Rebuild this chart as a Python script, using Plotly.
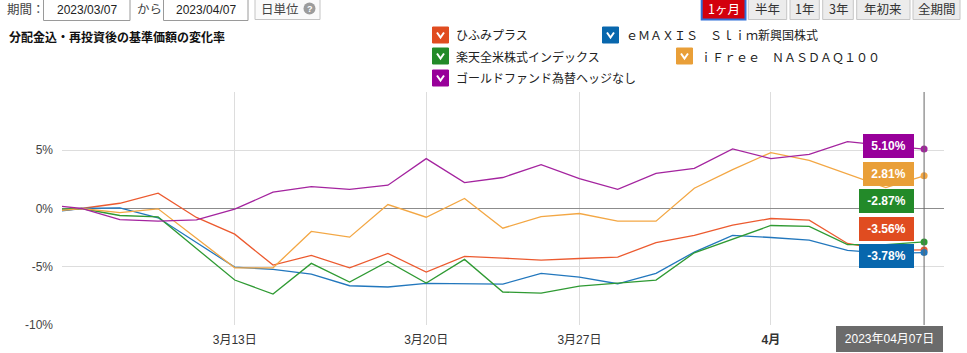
import plotly.graph_objects as go

# ---------------- data ----------------
dates = ["2023-03-06", "2023-03-07", "2023-03-08", "2023-03-09", "2023-03-10",
         "2023-03-13", "2023-03-14", "2023-03-15", "2023-03-16", "2023-03-17",
         "2023-03-20", "2023-03-22", "2023-03-23", "2023-03-24", "2023-03-27",
         "2023-03-28", "2023-03-29", "2023-03-30", "2023-03-31", "2023-04-03",
         "2023-04-04", "2023-04-05", "2023-04-06", "2023-04-07"]

series_names = ["ひふみプラス", "ｅＭＡＸＩＳ　Ｓｌｉｍ新興国株式", "楽天全米株式インデックス",
                "ｉＦｒｅｅ　ＮＡＳＤＡＱ１００", "ゴールドファンド為替ヘッジなし"]

hifumi = [-0.30, 0.00, 0.45, 1.31, -0.77, -2.20, -4.86, -4.03, -5.09, -3.86,
          -5.46, -4.11, -4.26, -4.43, -4.29, -4.17, -2.92, -2.31, -1.43, -0.86,
          -1.00, -3.00, -3.60, -3.56]
emaxis = [-0.40, 0.00, 0.05, -0.80, -2.92, -5.03, -5.23, -5.63, -6.63, -6.74,
          -6.43, -6.49, -6.49, -5.57, -5.89, -6.46, -5.57, -3.74, -2.31, -2.49,
          -2.72, -3.60, -3.85, -3.78]
rakuten = [-0.10, 0.00, -0.60, -0.72, -3.43, -6.14, -7.34, -4.71, -6.31, -4.54,
           -6.40, -4.37, -7.17, -7.26, -6.66, -6.43, -6.14, -3.80, -2.60, -1.46,
           -1.54, -3.10, -3.10, -2.87]
ifree = [-0.30, 0.00, -0.35, -0.03, -2.55, -5.09, -5.09, -1.97, -2.46, 0.34,
         -0.75, 0.86, -1.69, -0.69, -0.43, -1.09, -1.09, 1.74, 3.34, 4.80,
         4.14, 3.00, 1.80, 2.81]
gold = [0.35, 0.00, -0.95, -1.09, -0.97, -0.06, 1.40, 1.88, 1.65, 2.00,
        4.28, 2.23, 2.66, 3.77, 2.57, 1.65, 3.02, 3.45, 5.11, 4.28,
        4.65, 5.74, 5.40, 5.10]

series_values = [hifumi, emaxis, rakuten, ifree, gold]
line_colors = ["#ec5a2f", "#2277bd", "#2f9a33", "#f3a744", "#a4249f"]
label_colors = ["#e04c20", "#0867ad", "#238a29", "#e99f38", "#98009a"]

tick_dates = ["2023-03-13", "2023-03-20", "2023-03-27", "2023-04-03"]
tick_labels = ["3月13日", "3月20日", "3月27日", "<b>4月</b>"]
y_ticks = [-10, -5, 0, 5, 10]
y_tick_labels = ["-10%", "-5%", "0%", "5%", ""]

period_from = "2023/03/07"
period_to = "2023/04/07"
cursor_label = "2023年04月07日"
title_text = "分配金込・再投資後の基準価額の変化率"
range_buttons = ["1ヶ月", "半年", "1年", "3年", "年初来", "全期間"]

# ---------------- layout geometry ----------------
W_FIG, H_FIG = 967, 353
L, R, T, B = 62, 944, 92, 325
PW, PH = R - L, B - T
Y_MIN, Y_MAX = -10, 10

FONT = "Liberation Sans, Arial, Noto Sans CJK JP, sans-serif"
JFONT = "Noto Sans CJK JP, Liberation Sans, sans-serif"


def px(x):
    return (x - L) / PW


def py(y):
    return (B - y) / PH


def ypix(v):
    return T + (Y_MAX - v) / (Y_MAX - Y_MIN) * PH


x_idx = list(range(len(dates)))
last = x_idx[-1]

fig = go.Figure()
for name, vals, col in zip(series_names, series_values, line_colors):
    fig.add_trace(go.Scatter(x=x_idx, y=vals, mode="lines", name=name,
                             line=dict(color=col, width=1.3), showlegend=False,
                             hoverinfo="skip"))
for vals, col in zip(series_values, line_colors):
    fig.add_trace(go.Scatter(x=[last], y=[vals[-1]], mode="markers",
                             marker=dict(color=col, size=7), showlegend=False,
                             hoverinfo="skip"))

shapes = []
annotations = []

# cursor line at last date
shapes.append(dict(type="line", xref="x", yref="paper", x0=last, x1=last, y0=0, y1=1,
                   line=dict(color="#666666", width=1)))

# end-value labels with simple stacking
order = sorted(range(len(series_values)), key=lambda i: series_values[i][-1])
positions = {}
prev = None
for i in order:
    p = ypix(series_values[i][-1])
    if prev is not None:
        p = min(p, prev - 27.5)
    positions[i] = p
    prev = p
for i, vals in enumerate(series_values):
    v = vals[-1]
    lab_px = positions[i] + 3.9
    txt = f"{v:.2f}%"
    annotations.append(dict(
        x=last, y=v, xref="x", yref="y", xanchor="right", yanchor="middle",
        xshift=-10, yshift=ypix(v) - lab_px, text=f"<b>{txt}</b>", showarrow=False,
        font=dict(family=FONT, size=12, color="white"),
        bgcolor=label_colors[i], bordercolor=label_colors[i], borderwidth=1,
        borderpad=2, width=49 if v < 0 else 45, height=18, align="center"))

# cursor date label
annotations.append(dict(
    x=px(943.3), y=py(325.7), xref="paper", yref="paper", xanchor="right", yanchor="top",
    text=cursor_label, showarrow=False, font=dict(family=FONT, size=12, color="white"),
    bgcolor="#6b6b6b", bordercolor="#6b6b6b", borderwidth=1, borderpad=3,
    width=99, height=18))

# ---------------- top controls ----------------
def text_at(x, y, s, size=12, color="#333333", anchor="left", bold=False, family=JFONT):
    annotations.append(dict(x=px(x), y=py(y), xref="paper", yref="paper",
                            xanchor=anchor, yanchor="middle", showarrow=False,
                            text=f"<b>{s}</b>" if bold else s,
                            font=dict(family=family, size=size, color=color)))


def rect_px(x0, y0, x1, y1, fill, line, lw=1):
    shapes.append(dict(type="rect", xref="paper", yref="paper",
                       x0=px(x0), x1=px(x1), y0=py(y1), y1=py(y0),
                       fillcolor=fill, line=dict(color=line, width=lw), layer="above"))


text_at(5, 8, "期間：", size=12.5, color="#444444")
rect_px(43.5, -1, 130, 20.5, "white", "#9a9a9a")
text_at(86.75, 9.5, period_from, size=12, color="#222222", anchor="center", family=FONT)
text_at(135, 8, "から", size=12.5, color="#444444")
rect_px(163.5, -1, 248, 20.5, "white", "#9a9a9a")
text_at(205.75, 9.5, period_to, size=12, color="#222222", anchor="center", family=FONT)
rect_px(255, -1, 320, 19.5, "#fafafa", "#c4c4c4")
text_at(259, 8, "日単位", size=12.5, color="#444444")
shapes.append(dict(type="circle", xref="paper", yref="paper", x0=px(303.5), x1=px(315.5),
                   y0=py(14.5), y1=py(2.5), fillcolor="#9c9c9c", line=dict(width=0),
                   layer="above"))
text_at(309.5, 8.5, "<b>?</b>", size=9, color="white", anchor="center", family=FONT)

text_at(7, 36, title_text, size=12, color="#111111", bold=True)

btn_x = [(701.7, 745.5), (748.3, 786.7), (790, 819.3), (822.7, 853.3), (856.7, 910), (913, 960)]
for k, (lab, (a, b)) in enumerate(zip(range_buttons, btn_x)):
    if k == 0:
        rect_px(a, -1, b, 19.5, "#d3000d", "#2f6fd8", 2)
        text_at((a + b) / 2, 8.5, lab, size=12.5, color="white", anchor="center")
    else:
        rect_px(a, -1, b, 19.5, "#ececec", "#c6c6c6")
        text_at((a + b) / 2, 8.5, lab, size=12.5, color="#333333", anchor="center")

# ---------------- legend (checkbox style) ----------------
legend_pos = [(432.5, 35), (602.5, 35), (432.5, 56), (676.5, 56), (432.5, 78)]
for (lx, ly), name, col in zip(legend_pos, series_names, label_colors):
    rect_px(lx, ly - 8, lx + 16, ly + 8, col, col, 1)
    path = (f"M {px(lx + 4.5)},{py(ly - 2.5)} L {px(lx + 8)},{py(ly + 2.5)} "
            f"L {px(lx + 11.5)},{py(ly - 2.5)}")
    shapes.append(dict(type="path", xref="paper", yref="paper", path=path,
                       line=dict(color="white", width=2), layer="above"))
    text_at(lx + 21, ly, name, size=12, color="#222222")

fig.update_layout(
    width=W_FIG, height=H_FIG,
    margin=dict(l=L, r=W_FIG - R, t=T, b=H_FIG - B, pad=0, autoexpand=False),
    paper_bgcolor="white", plot_bgcolor="white",
    shapes=shapes, annotations=annotations,
    font=dict(family=FONT, size=12, color="#444444"),
    xaxis=dict(range=[0.49, 23.52], tickvals=[dates.index(d) for d in tick_dates],
               ticktext=tick_labels, showgrid=True, gridcolor="#dddddd", gridwidth=1,
               zeroline=False, showline=False, ticks="", ticklabelstandoff=6,
               automargin=False,
               tickfont=dict(family=FONT, size=12, color="#333333"), fixedrange=True),
    yaxis=dict(range=[Y_MIN, Y_MAX], tickvals=y_ticks, ticktext=y_tick_labels,
               showgrid=True, gridcolor="#dddddd", gridwidth=1,
               zeroline=True, zerolinecolor="#8c8c8c", zerolinewidth=1.2,
               showline=False, ticks="", ticklabelstandoff=8, automargin=False,
               tickfont=dict(family=FONT, size=12, color="#444444"), fixedrange=True),
)

fig.write_html("out.html", config={"displayModeBar": False})
